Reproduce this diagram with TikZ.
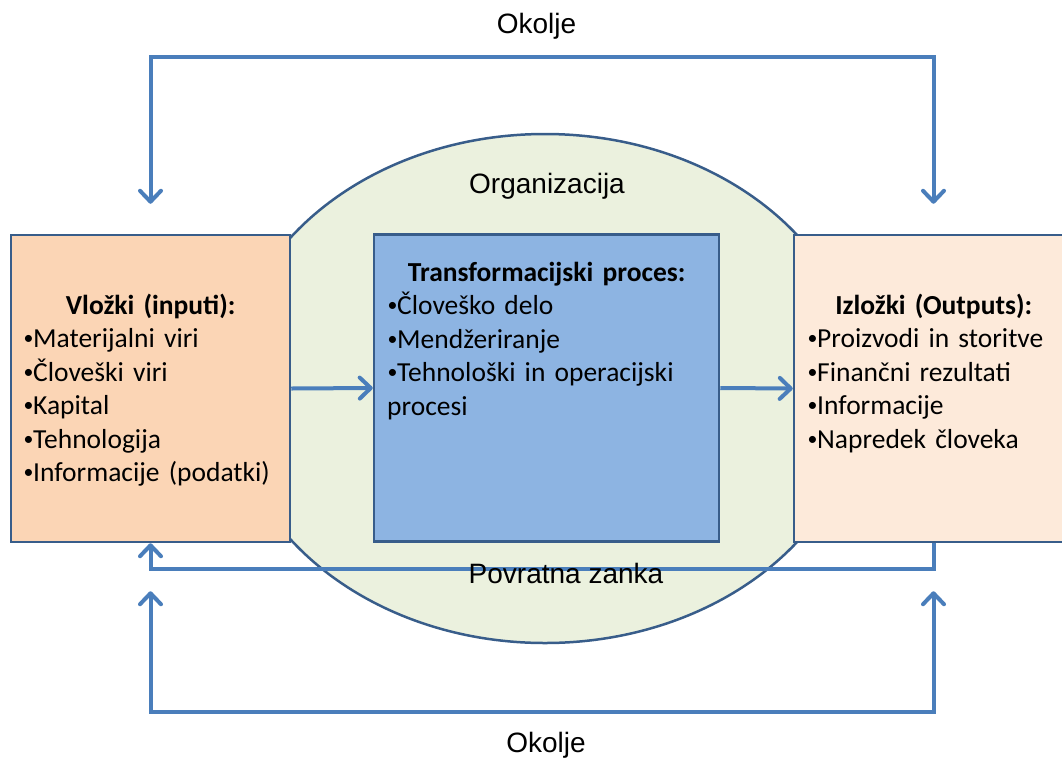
\documentclass[tikz,border=0pt]{standalone}
\usepackage{fontspec}
\setmainfont{Carlito}
\newfontfamily\arialfont{Liberation Sans}
\usetikzlibrary{arrows.meta,calc,shapes.geometric}
\definecolor{edge}{HTML}{385D8A}
\definecolor{flow}{HTML}{4A7EBB}
\definecolor{inputfill}{HTML}{FBD5B5}
\definecolor{outputfill}{HTML}{FDEADA}
\definecolor{procfill}{HTML}{8DB4E2}
\definecolor{orgfill}{HTML}{EBF1DE}
% small list bullet
\newcommand\blt{\makebox[10pt][l]{\hspace{0.5pt}\raisebox{3pt}{\scalebox{0.72}{•}}}}
% text face of the blocks, with tighter word spacing
\newcommand\boxfont{\fontsize{27.5}{33.5}\selectfont\spaceskip=5.5pt\relax}

\begin{document}
\begin{tikzpicture}[x=1pt,y=-1pt,
  box/.style={draw=edge, line width=2.5pt, inner sep=0pt, minimum height=307pt},
  boxtext/.style={inner sep=0pt, anchor=base west, font=\boxfont},
  label/.style={font=\arialfont\fontsize{28}{33}\selectfont, inner sep=0pt, anchor=base},
  flowline/.style={draw=flow, line width=4pt},
  barb/.tip={Straight Barb[length=11pt, width=21pt, line cap=round, line join=round]},
  tip/.style={-barb},
  tips/.style={barb-barb}
]
\useasboundingbox (0,0) rectangle (1062,758);

% organisation
\node[ellipse, draw=edge, fill=orgfill, line width=2.5pt, inner sep=0pt,
      minimum width=632pt, minimum height=509pt] (org) at (545,388.5) {};

% the three blocks
\node[box, fill=inputfill, minimum width=279pt] (inputs) at (150.5,388.5) {};
\node[box, fill=procfill, minimum width=345pt] (proc) at (546.5,388) {};
\node[box, fill=outputfill, minimum width=279pt] (outputs) at (933.5,388.5) {};

% block contents
\node[boxtext, text width=255pt] (intext) at (23,314)
  {\makebox[\linewidth][c]{\textbf{Vložki (inputi):}}\\
   \blt Materijalni viri\\\blt Človeški viri\\\blt Kapital\\\blt Tehnologija\\\blt Informacije (podatki)};
\node[boxtext, text width=319pt] (proctext) at (387,281)
  {\makebox[\linewidth][c]{\textbf{Transformacijski proces:}}\\
   \blt Človeško delo\\\blt Mendžeriranje\\\blt Tehnološki in operacijski\\procesi};
\node[boxtext, text width=253pt] (outtext) at (807,314)
  {\makebox[\linewidth][c]{\textbf{Izložki (Outputs):}}\\
   \blt Proizvodi in storitve\\\blt Finančni rezultati\\\blt Informacije\\\blt Napredek človeka};

% flow through the organisation
\draw[flowline, tip] (inputs.east) -- (proc.west);
\draw[flowline, tip] (proc.east) -- (outputs.west);

% environment loops
\coordinate (envtopbar) at (540,57);
\coordinate (envbotbar) at (540,712);
\coordinate (inTop) at ($(inputs.north)+(0,-30)$);
\coordinate (outTop) at ($(outputs.north)+(0,-30)$);
\coordinate (inBot) at ($(inputs.south)+(0,48)$);
\coordinate (outBot) at ($(outputs.south)+(0,48)$);
\draw[flowline, tips] (inTop) |- (envtopbar) -| (outTop);
\draw[flowline, tips] (inBot) |- (envbotbar) -| (outBot);

% feedback loop
\coordinate (fbbar) at (540,569);
\draw[flowline, tip] (outputs.south) |- (fbbar) -| (inputs.south);

% labels
\node[label] (envtoplabel) at (536.5,33.5) {Okolje};
\node[label] (envbotlabel) at (546,752) {Okolje};
\node[label] (orglabel) at (547,193) {Organizacija};
\node[label] (fblabel) at (566,583) {Povratna zanka};
\end{tikzpicture}
\end{document}
